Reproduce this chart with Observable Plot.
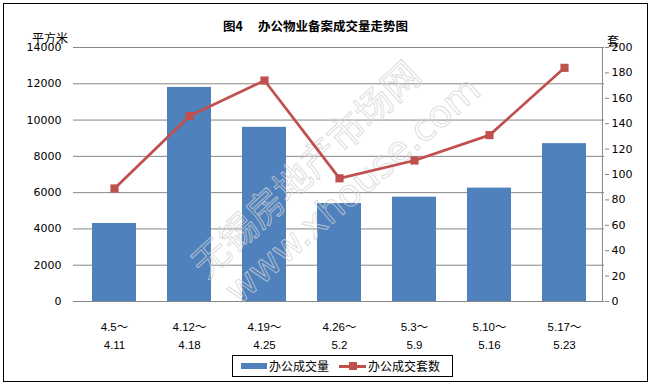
<!DOCTYPE html>
<html>
<head>
<meta charset="utf-8">
<script src="https://cdn.jsdelivr.net/npm/d3@7"></script>
<script src="https://cdn.jsdelivr.net/npm/@observablehq/plot@0.6"></script>
<style>
  html, body { margin: 0; padding: 0; background: #fff; }
  #wrap { position: relative; width: 650px; height: 384px; background: #fff; overflow: hidden; }
  #wrap svg { position: absolute; left: 0; top: 0; }
  .abs { position: absolute; white-space: nowrap; color: #000; }
  .cjk { font-family: "Noto Sans CJK SC", sans-serif; }
</style>
</head>
<body>
<div id="wrap"></div>
<script>
// ---- data ----
const periodStart = ["4.5", "4.12", "4.19", "4.26", "5.3", "5.10", "5.17"];
const periodEnd   = ["4.11", "4.18", "4.25", "5.2", "5.9", "5.16", "5.23"];
const areaValues  = [4300, 11800, 9600, 5400, 5750, 6250, 8700];   // 办公成交量 (平方米)
const unitValues  = [89, 146, 174, 97, 111, 131, 184];             // 办公成交套数 (套)
const leftTicks   = [0, 2000, 4000, 6000, 8000, 10000, 12000, 14000];
const rightTicks  = [0, 20, 40, 60, 80, 100, 120, 140, 160, 180, 200];
const titleMain   = "办公物业备案成交量走势图";
const titleFig    = "图4";
const seriesNames = ["办公成交量", "办公成交套数"];
const watermark   = ["无锡房地产市场网", "www.xhouse.com"];

const ratio = leftTicks[leftTicks.length - 1] / rightTicks[rightTicks.length - 1];
const data = periodStart.map((p, i) => ({ cat: p, area: areaValues[i], units: unitValues[i] }));

const W = 650, H = 384, mL = 73, mR = 46, mT = 47, mB = 83;
const step = (W - mL - mR) / periodStart.length;
const blue = "#4f81bd", red = "#c0504d", grid = "#868686";

const chart = Plot.plot({
  width: W, height: H,
  marginLeft: mL, marginRight: mR, marginTop: mT, marginBottom: mB,
  style: { fontFamily: "'DejaVu Sans', sans-serif", fontSize: "11px", color: "#000", background: "transparent", overflow: "visible" },
  x: { domain: periodStart, paddingInner: 0.42, paddingOuter: 0.21, label: null },
  y: { domain: [0, leftTicks[leftTicks.length - 1]], label: null },
  marks: [
    Plot.ruleY(leftTicks, { stroke: grid, strokeWidth: 1 }),
    Plot.barY(data, { x: "cat", y: "area", fill: blue }),
    Plot.text([watermark[0]], { frameAnchor: "middle", text: d => d, dx: -32, dy: -4, rotate: -43,
      fontSize: 37, fontFamily: "Noto Sans CJK SC", fill: "none", stroke: "#d2d2d2", strokeWidth: 1, strokeOpacity: 0.75 }),
    Plot.text([watermark[1]], { frameAnchor: "middle", text: d => d, dx: 14, dy: 16, rotate: -41,
      fontSize: 37, fontFamily: "DejaVu Sans", fill: "none", stroke: "#d2d2d2", strokeWidth: 1, strokeOpacity: 0.75 }),
    Plot.line(data, { x: "cat", y: d => d.units * ratio, stroke: red, strokeWidth: 2.75 }),
    Plot.dot(data, { x: "cat", y: d => d.units * ratio, symbol: "square", r: 4.6, fill: red, stroke: "none" }),
    Plot.axisY({ anchor: "left", ticks: leftTicks, tickFormat: d => String(d), tickSize: 0, tickPadding: 12, label: null, fill: "#000" }),
    Plot.axisY({ anchor: "right", ticks: rightTicks.map(v => v * ratio), tickFormat: d => String(Math.round(d / ratio)),
      tickSize: 4, tickPadding: 3, stroke: grid, fill: "#000", label: null }),
    Plot.ruleX([periodStart[periodStart.length - 1]], { dx: step / 2, stroke: grid }),
    Plot.axisX({ tickSize: 0, tickPadding: 16, lineHeight: 1.62, label: null, fill: "#000",
      fontFamily: "'Liberation Sans', 'Noto Sans CJK SC', sans-serif", fontSize: 11.5,
      tickFormat: d => `${d}～\n${periodEnd[periodStart.indexOf(d)]}` })
  ]
});

const wrap = document.getElementById("wrap");
wrap.appendChild(chart);

function add(html, css, cls = "abs cjk") {
  const el = document.createElement("div");
  el.className = cls;
  el.style.cssText = css;
  el.innerHTML = html;
  wrap.appendChild(el);
  return el;
}

// outer border
add("", "left:3px;top:3px;width:645px;height:379px;border:1px solid #000;box-sizing:border-box;", "abs");
// title
add(`<span>${titleFig}</span><span style="margin-left:15px">${titleMain}</span>`,
  "left:223px;top:18px;font-size:12.5px;line-height:15px;font-weight:bold;");
// unit labels
add("平方米", "left:32px;top:31px;font-size:12px;line-height:13px;");
add("套", "left:607px;top:34px;font-size:12px;line-height:13px;");
// legend
add(`
  <div style="position:absolute;left:8px;top:7px;width:26px;height:6px;background:${blue}"></div>
  <div style="position:absolute;left:36px;top:2px;font-size:12px;line-height:15px;">${seriesNames[0]}</div>
  <div style="position:absolute;left:106px;top:8.5px;width:27px;height:3px;background:${red}"></div>
  <div style="position:absolute;left:115.5px;top:6px;width:8px;height:8px;background:${red}"></div>
  <div style="position:absolute;left:135px;top:2px;font-size:12px;line-height:15px;">${seriesNames[1]}</div>
`, "left:232px;top:355px;width:221px;height:22px;border:1px solid #000;box-sizing:border-box;background:#fff;");
</script>
</body>
</html>
